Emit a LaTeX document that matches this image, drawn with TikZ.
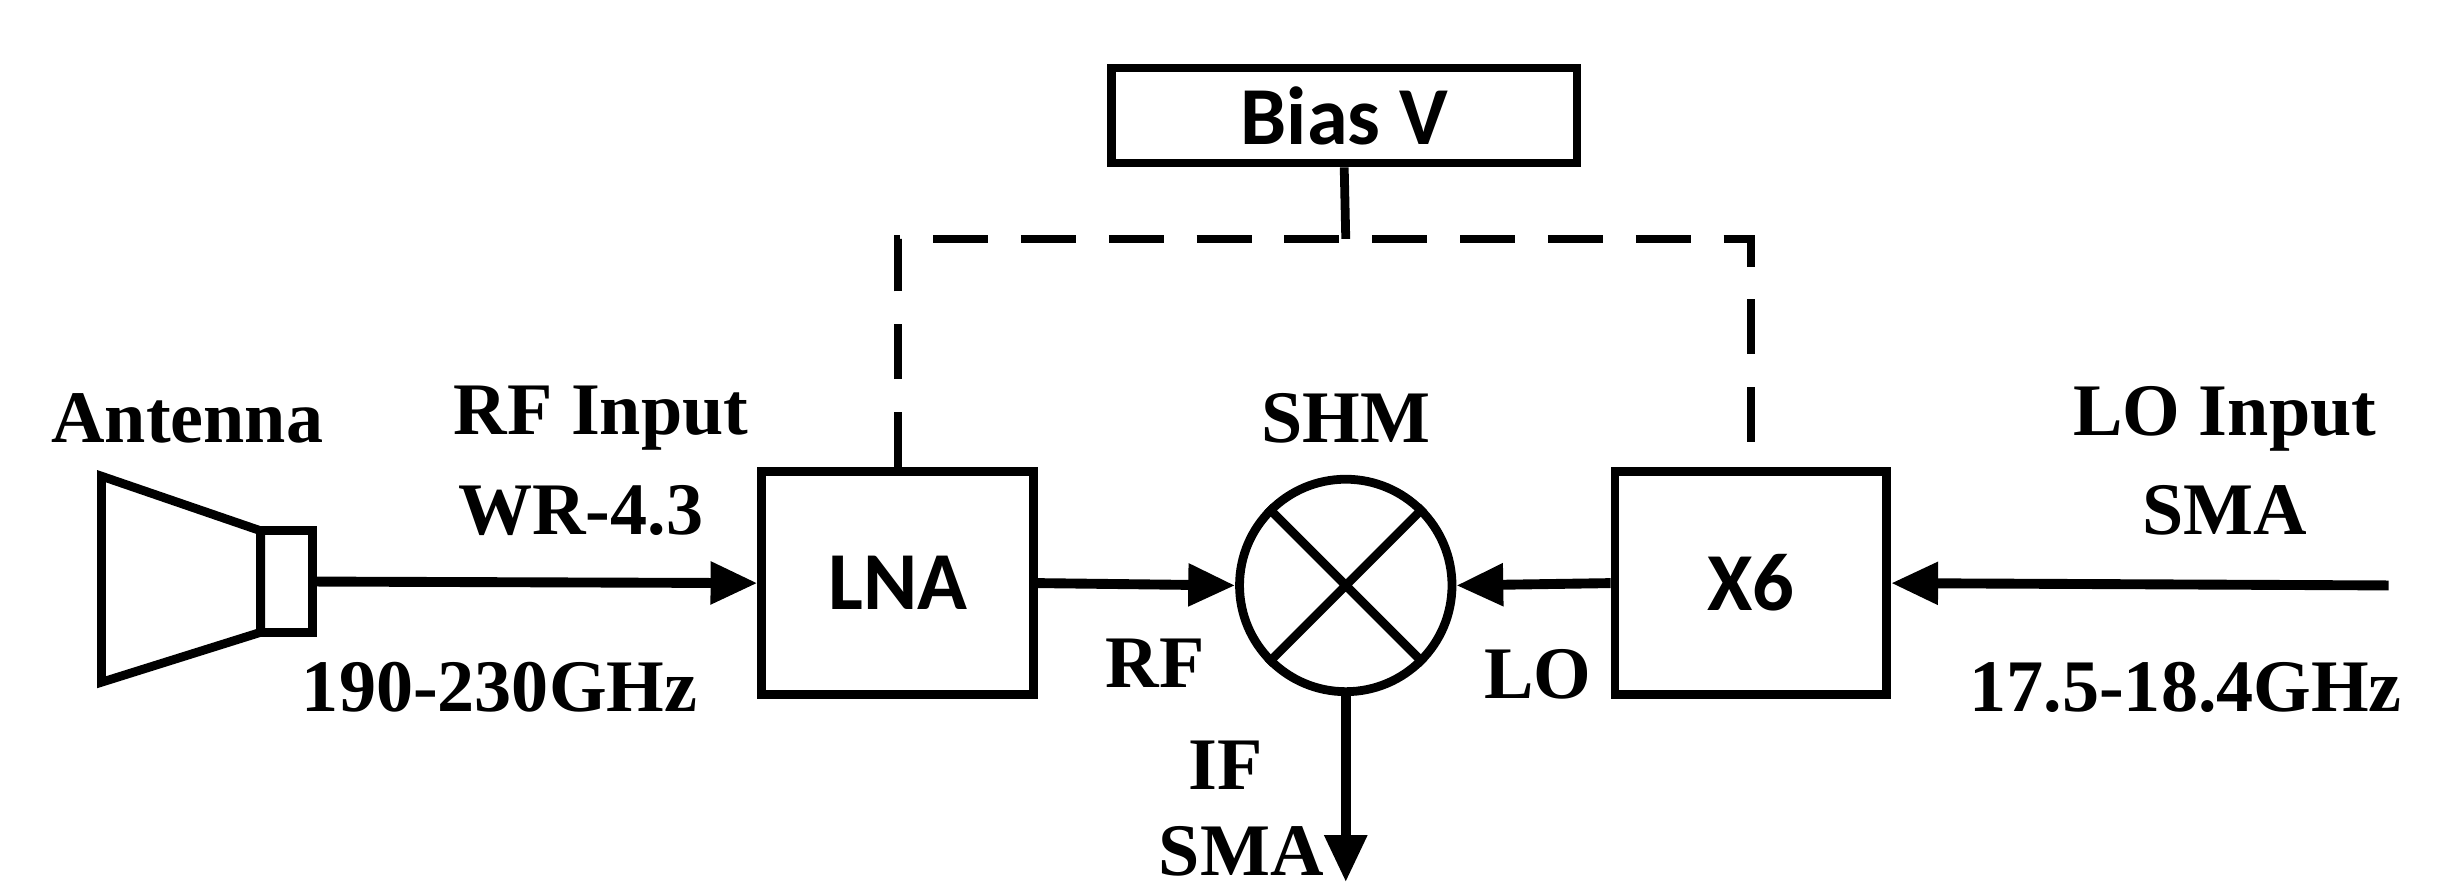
\documentclass[tikz,border=0pt]{standalone}
\usepackage{fontspec}
\setmainfont{Liberation Serif}
\newfontfamily\boxfont{Carlito}
\usetikzlibrary{positioning}
\usetikzlibrary{arrows.meta}
\tikzset{
	blk/.style={draw,line width=1.6pt,minimum width=1.74cm,minimum height=1.43cm,font=\boxfont\bfseries\fontsize{15}{17}\selectfont},
	lbl/.style={font=\bfseries\fontsize{13.5}{16}\selectfont},
	sig/.style={line width=1.8pt,-{Triangle[length=0.3cm,width=0.26cm]}}
}
\begin{document}
\begin{tikzpicture}[x=0.01cm,y=-0.01cm,line width=1.6pt]
	\useasboundingbox (0,0) rectangle (1568,573);
	% blocks
	\node[blk] (LNA) at (575,373.5) {LNA};
	\node[blk] (X6) at (1121.5,373.5) {X6};
	\node[blk,minimum width=2.98cm,minimum height=0.58cm] (Bias) at (861,74) {Bias V};
	\node[draw,circle,line width=1.6pt,minimum size=1.36cm] (SHM) at (862,375) {};
	\draw (SHM.45) -- (SHM.225) (SHM.135) -- (SHM.315);
	% antenna
	\draw (65,305) -- (167,340) -- (167,405) -- (65,437) -- cycle;
	\node[draw,line width=1.6pt,minimum width=0.33cm,minimum height=0.65cm,inner sep=0pt] (Horn) at (183.5,372.5) {};
	\coordinate (LOin) at (1530,375);
	\coordinate (IFout) at (862,565);
	\coordinate (bj) at (862,153);
	% bias lines
	\draw (Bias.south) -- (bj);
	\draw[dashed,line width=1.4pt,dash pattern=on 10pt off 6pt] (LNA.north) -- (LNA.north |- bj) -- (X6.north |- bj) -- (X6.north);
	% signal path
	\draw[sig] (Horn.east) -- (LNA.west);
	\draw[sig] (LNA.east) -- (SHM.west);
	\draw[sig] (X6.west) -- (SHM.east);
	\draw[sig] (LOin) -- (X6.east);
	\draw[sig] (SHM.south) -- (IFout);
	% labels
	\node[lbl] (tA) at (120,268) {Antenna};
	\node[lbl] (tRF) at (385,268) {RF Input};
	\node[lbl] (tWR) at (372,327) {WR-4.3};
	\node[lbl] (tfr) at (320,440) {190-230GHz};
	\node[lbl] (tS) at (862,268) {SHM};
	\node[lbl] (tLO) at (1425,268) {LO Input};
	\node[lbl] (tSMA) at (1425,327) {SMA};
	\node[lbl] (tfl) at (1400,440) {17.5-18.4GHz};
	\node[lbl] (tr) at (740,425) {RF};
	\node[lbl] (tl) at (985,432) {LO};
	\node[lbl] (ti) at (785,490) {IF};
	\node[lbl] (tis) at (795,545) {SMA};
\end{tikzpicture}
\end{document}
